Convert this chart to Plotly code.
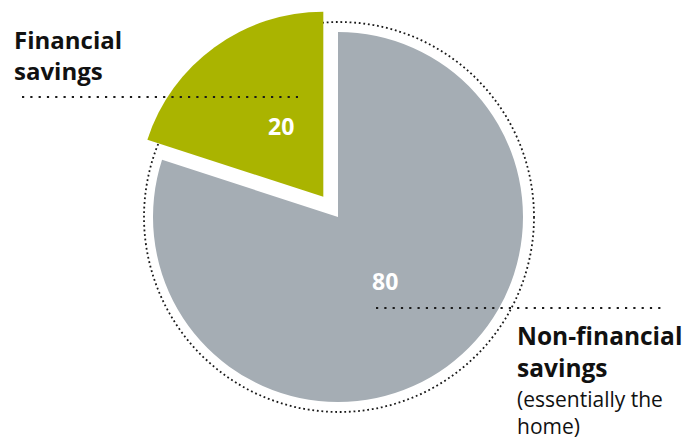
import plotly.graph_objects as go

# Savings split (percent); slices run clockwise from 12 o'clock
categories = ["Non-financial savings", "Financial savings"]
values = [80, 20]
colors = ["#a5adb4", "#aab400"]
pulls = [0, 0.135]

W, H = 690, 437

def px(x):
    return x / W

def py(y):
    return 1 - y / H

# Pie placement in pixels: centre and drawn radius
CX, CY, R = 338, 217, 185
box = R * (2 + 2 * max(pulls))

fig = go.Figure(
    go.Pie(
        labels=categories,
        values=values,
        sort=False,
        direction="clockwise",
        rotation=0,
        pull=pulls,
        marker=dict(colors=colors, line=dict(width=0)),
        textinfo="none",
        hoverinfo="label+value",
        showlegend=False,
        domain=dict(
            x=[px(CX - box / 2), px(CX + box / 2)],
            y=[py(CY + box / 2), py(CY - box / 2)],
        ),
    )
)

# Dotted outer ring, sitting behind the pulled-out slice
RING = 195
fig.add_shape(
    type="circle", xref="paper", yref="paper", layer="below",
    x0=px(CX + 1 - RING), x1=px(CX + 1 + RING),
    y0=py(CY + RING), y1=py(CY - RING),
    line=dict(color="#1a1a1a", width=1.8, dash="1.8px,2.8px"),
)

# Dotted leader lines
leader = dict(color="#1a1a1a", width=2.2, dash="2.2px,6.1px")
fig.add_shape(type="line", xref="paper", yref="paper",
              x0=px(22), x1=px(298), y0=py(97), y1=py(97), line=leader)
fig.add_shape(type="line", xref="paper", yref="paper",
              x0=px(376), x1=px(662), y0=py(308), y1=py(308), line=leader)

FONT = "Open Sans"

# Slice values
value_pos = [(385, 281), (281, 126)]
for v, (x, y) in zip(values, value_pos):
    fig.add_annotation(
        x=px(x), y=py(y), xref="paper", yref="paper",
        text=f"<b>{v}</b>", showarrow=False,
        xanchor="center", yanchor="middle",
        font=dict(family=FONT, size=23, color="white"),
    )

# Category labels
fig.add_annotation(
    x=px(12), y=py(21), xref="paper", yref="paper",
    text="<b>Financial<br>savings</b>", showarrow=False,
    xanchor="left", yanchor="top", align="left",
    font=dict(family=FONT, size=24, color="#111111"),
)
fig.add_annotation(
    x=px(515), y=py(317), xref="paper", yref="paper",
    text="<b>Non-financial<br>savings</b>", showarrow=False,
    xanchor="left", yanchor="top", align="left",
    font=dict(family=FONT, size=24.5, color="#111111"),
)
fig.add_annotation(
    x=px(515), y=py(383), xref="paper", yref="paper",
    text="(essentially the<br>home)", showarrow=False,
    xanchor="left", yanchor="top", align="left",
    font=dict(family=FONT, size=21, color="#111111"),
)

fig.update_layout(
    width=W, height=H,
    margin=dict(l=0, r=0, t=0, b=0),
    paper_bgcolor="white",
    plot_bgcolor="white",
)

fig.write_html("out.html")
